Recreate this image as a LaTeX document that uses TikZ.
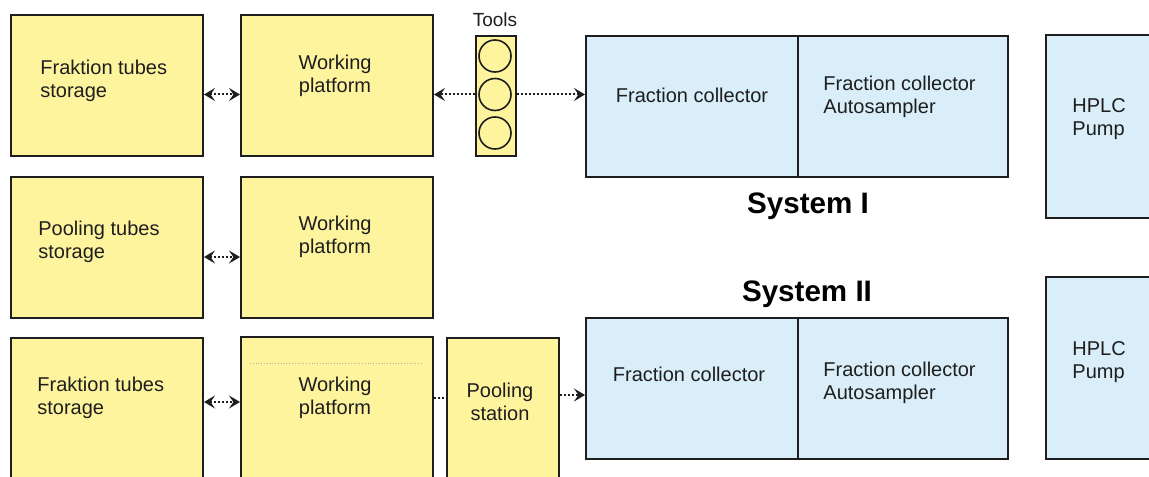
\documentclass[tikz,border=0pt]{standalone}
\usepackage{fontspec}
\setmainfont{Liberation Sans}
\usetikzlibrary{arrows.meta,calc}
\definecolor{padyellow}{RGB}{255,244,158}
\definecolor{sysblue}{RGB}{217,238,249}
\definecolor{edge}{RGB}{30,30,30}
\tikzset{
  px/.style 2 args={minimum width=#1*0.5pt, minimum height=#2*0.5pt},
  ybox/.style={draw=edge, line width=1pt, fill=padyellow, inner sep=0pt, anchor=north west},
  bbox/.style={draw=edge, line width=1pt, fill=sysblue, inner sep=0pt, anchor=north west},
  txt/.style={font=\fontsize{10}{11.5}\selectfont, align=center, inner sep=0pt, text=edge},
  ltxt/.style={txt, align=left, anchor=west},
  systitle/.style={font=\fontsize{14.8}{16}\selectfont\bfseries, inner sep=0pt},
  slot/.style={circle, draw=edge, line width=0.8pt, minimum size=16pt, inner sep=0pt},
  tip/.tip={Stealth[length=5.5pt,width=6.5pt,inset=2.2pt]},
  link/.style={densely dotted, line width=1pt, draw=edge, tip-tip},
  flow/.style={densely dotted, line width=1pt, draw=edge, -tip},
  plain/.style={densely dotted, line width=1pt, draw=edge}
}
\begin{document}
\begin{tikzpicture}[x=0.5pt, y=-0.5pt]
\useasboundingbox (0,0) rectangle (1149,476);
\clip (0,0) rectangle (1149,476);

% ---- row 1: fraction tubes, working platform, tools, system I ----
\node[ybox, px={192}{141}] (fts1) at (10,14) {};
\node[ybox, px={192}{141}] (wp1) at (240,14) {};
\node[ybox, px={40}{120}] (tools) at (475,35) {};
\node[slot] (t1) at (495,56) {};
\node[slot] (t2) at (495,94.5) {};
\node[slot] (t3) at (495,133) {};
\node[txt, font=\fontsize{9.5}{11}\selectfont] (toolslbl) at (495,20) {Tools};
\node[bbox, px={212}{141}] (fc1) at (585,35) {};
\node[bbox, px={210}{141}] (as1) at (797,35) {};
\node[bbox, px={130}{183}] (hp1) at (1045,34) {};

\node[ltxt] (fts1t) at (40,80.5) {Fraktion tubes\\storage};
\node[txt] (wp1t) at (335,75.5) {Working\\platform};
\node[txt] (fc1t) at (692,95) {Fraction collector};
\node[ltxt] (as1t) at (823,96.5) {Fraction collector\\Autosampler};
\node[ltxt] (hp1t) at (1072,119.5) {HPLC\\Pump};

\draw[link] (fts1.east |- t2) -- (wp1.west |- t2);
\draw[flow] (tools.west |- t2) -- (wp1.east |- t2);
\draw[flow] (tools.east |- t2) -- (fc1.west |- t2);

\node[systitle] (sys1) at (808,206) {System I};

% ---- row 2: pooling tubes, working platform ----
\node[ybox, px={192}{141}] (pts) at (10,176) {};
\node[ybox, px={192}{141}] (wp2) at (240,176) {};
\node[ltxt] (ptst) at (38,241.5) {Pooling tubes\\storage};
\node[txt] (wp2t) at (335,236.5) {Working\\platform};
\coordinate (r2) at (0,257);
\draw[link] (pts.east |- r2) -- (wp2.west |- r2);

\node[systitle] (sys2) at (807,294) {System II};

% ---- row 3: fraction tubes, working platform, pooling station, system II ----
\node[ybox, px={192}{160}] (fts3) at (10,337) {};
\node[ybox, px={192}{160}] (wp3) at (240,336) {};
\node[ybox, px={112}{160}] (ps) at (446,337) {};
\node[bbox, px={212}{141}] (fc3) at (585,317) {};
\node[bbox, px={210}{141}] (as3) at (797,317) {};
\node[bbox, px={130}{182}] (hp3) at (1045,276) {};
\draw[gray!60, line width=0.4pt, densely dotted] (250,363) -- (422,363);

\node[ltxt] (fts3t) at (37,397.5) {Fraktion tubes\\storage};
\node[txt] (wp3t) at (335,397.5) {Working\\platform};
\node[txt] (pst) at (500,401.5) {Pooling\\station};
\node[txt] (fc3t) at (689,374) {Fraction collector};
\node[ltxt] (as3t) at (823,382.5) {Fraction collector\\Autosampler};
\node[ltxt] (hp3t) at (1072,362.5) {HPLC\\Pump};

\coordinate (r3a) at (0,402);
\coordinate (r3b) at (0,398);
\coordinate (r3c) at (0,395);
\draw[link] (fts3.east |- r3a) -- (wp3.west |- r3a);
\draw[plain] (wp3.east |- r3b) -- (ps.west |- r3b);
\draw[flow] (ps.east |- r3c) -- (fc3.west |- r3c);
\end{tikzpicture}
\end{document}
